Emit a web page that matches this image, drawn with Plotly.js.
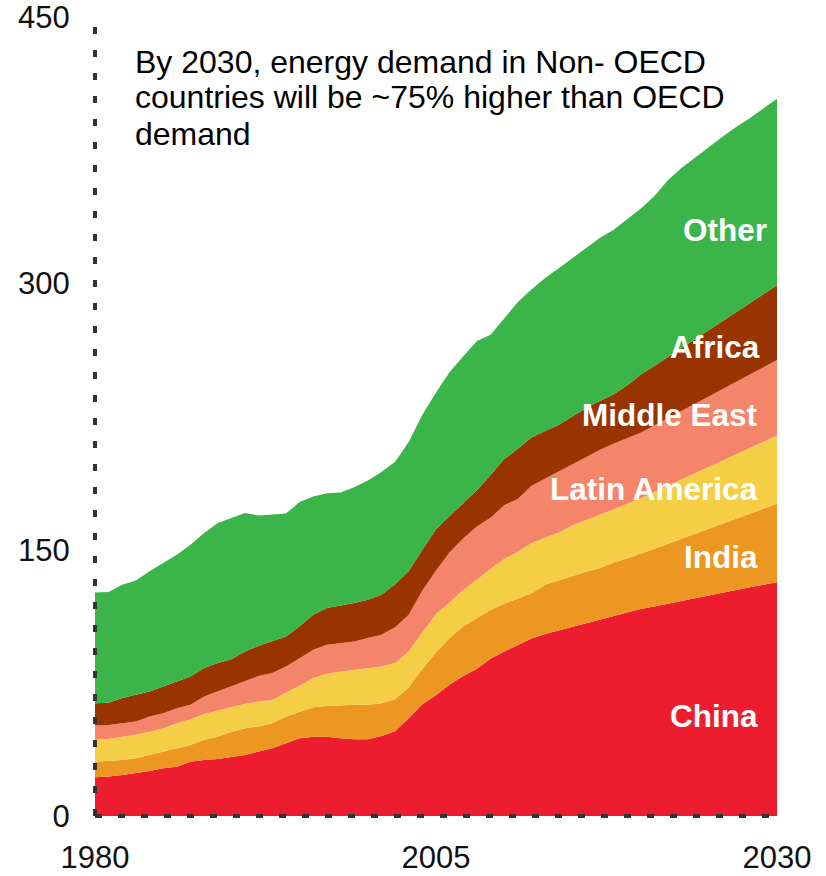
<!DOCTYPE html>
<html>
<head>
<meta charset="utf-8">
<script src="https://cdn.plot.ly/plotly-3.0.1.min.js"></script>
<style>html,body{margin:0;padding:0;background:#fff;}#chart{width:826px;height:876px;}</style>
</head>
<body>
<div id="chart"></div>
<script>
var years = [];
for (var yr = 1980; yr <= 2030; yr++) years.push(yr);

var china = [21.8,22.2,23.1,24.1,25.4,26.9,27.8,30.6,31.6,32.1,33.4,34.4,36.3,38.2,41.0,43.8,44.7,44.7,43.8,43.2,43.2,45.1,47.8,55.1,63.0,68.0,74.0,78.8,83.0,88.5,92.6,96.4,100.0,102.5,104.5,106.5,108.5,110.5,112.6,114.5,116.6,118.0,119.6,121.2,122.8,124.3,125.8,127.3,128.8,130.2,131.6];
var india = [8.8,8.7,8.5,8.4,9.0,9.4,10.4,9.4,11.3,12.6,14.1,15.0,14.1,14.1,15.0,15.0,16.6,17.3,18.6,19.4,19.4,18.4,18.1,17.3,19.8,24.2,26.2,28.0,28.5,27.5,27.0,26.2,25.4,27.8,28.2,29.0,29.0,29.2,30.0,30.5,31.0,32.4,33.6,34.9,36.1,37.5,38.8,40.1,41.4,42.9,44.3];
var latinAmerica = [12.3,12.4,13.1,13.2,13.1,13.1,14.1,14.5,14.6,14.7,14.1,13.8,14.1,13.1,13.5,14.5,16.3,18.1,19.0,19.7,20.3,20.7,20.2,20.2,20.6,21.6,20.1,20.6,21.6,23.3,25.2,26.2,28.4,26.5,26.9,28.2,29.4,30.0,30.0,30.6,31.4,32.1,32.9,33.5,34.2,34.9,35.6,36.3,37.0,37.7,38.4];
var middleEast = [8.0,7.9,7.6,7.5,8.5,8.5,8.4,8.1,9.8,10.7,11.3,12.5,14.4,15.1,14.7,15.6,16.0,16.3,16.0,16.0,17.3,17.9,20.2,20.8,23.6,24.5,28.2,29.1,30.0,28.7,30.2,29.8,32.2,33.3,34.5,34.5,35.3,36.5,37.0,37.1,36.9,37.5,38.0,38.6,39.2,39.7,40.2,40.8,41.4,41.9,42.5];
var africa = [12.6,12.6,14.1,15.0,14.1,15.0,15.0,16.0,16.0,16.0,15.4,16.9,17.0,17.8,16.9,17.9,19.7,20.7,21.0,21.6,21.6,22.5,24.2,24.6,23.0,23.2,20.5,20.0,20.4,24.0,26.0,28.2,27.2,26.8,26.2,26.8,27.6,27.6,27.8,29.7,32.6,33.5,34.5,35.4,36.4,37.3,38.3,39.3,40.2,41.2,42.1];
var other = [62.4,62.4,63.9,64.5,67.7,69.6,71.5,74.2,76.1,78.9,79.6,78.1,73.3,71.4,69.2,70.0,66.7,64.7,63.8,65.3,67.2,69.2,69.0,72.6,76.0,77.0,81.0,82.5,84.0,79.0,79.5,82.7,83.3,86.1,88.2,89.0,89.7,91.7,92.6,93.6,93.5,95.5,99.4,101.4,102.3,103.3,103.8,104.2,104.2,104.6,105.1];

var seriesNames = ["China","India","Latin America","Middle East","Africa","Other"];
var seriesColors = ["#ED1C2E","#EB9722","#F4CF45","#F4856A","#993300","#3BB54A"];
var seriesData = [china, india, latinAmerica, middleEast, africa, other];

var yTicks = [0,150,300,450];
var xTicks = [1980,2005,2030];

var noteLines = ["By 2030, energy demand in Non- OECD","countries will be ~75% higher than OECD","demand"];

var traces = seriesData.map(function(d,i){
  return {
    x: years, y: d, type: 'scatter', mode: 'lines',
    stackgroup: 'one', name: seriesNames[i],
    line: {width: 0, color: seriesColors[i]},
    fillcolor: seriesColors[i],
    hoverinfo: 'skip'
  };
});

var fontFam = '"Liberation Sans", Arial, sans-serif';

var annotations = [];
var noteY = [424.6, 404.9, 384.0];
noteLines.forEach(function(t,i){
  annotations.push({x: 1982.75, y: noteY[i], xref:'x', yref:'y', text: t, showarrow:false,
    xanchor:'left', yanchor:'middle', font:{family:fontFam, size:32, color:'#000'}});
});
var labelX = [2028.75,2028.75,2028.75,2028.75,2028.9,2029.4];
var labelY = [56.4,146.1,184.4,225.6,263.9,329.9];
seriesNames.forEach(function(n,i){
  annotations.push({x: labelX[i], y: labelY[i], xref:'x', yref:'y', text:'<b>'+n+'</b>', showarrow:false,
    xanchor:'right', yanchor:'middle', font:{family:fontFam, size:31.5, color:'#fff'}});
});

var layout = {
  width: 826, height: 876,
  margin: {l:95, r:49, t:17, b:60},
  paper_bgcolor:'#fff', plot_bgcolor:'#fff',
  showlegend:false,
  font:{family:fontFam, size:28, color:'#111'},
  xaxis:{range:[1980,2030], tickvals:xTicks, ticktext:xTicks.map(String), showgrid:false, zeroline:false,
    showline:false, ticks:'outside', ticklen:14, tickcolor:'rgba(0,0,0,0)', ticklabeloverflow:'allow',
    tickfont:{family:fontFam,size:31,color:'#111'}, fixedrange:true},
  yaxis:{range:[0,450], tickvals:yTicks, ticktext:yTicks.map(String), showgrid:false, zeroline:false,
    showline:false, ticks:'outside', ticklen:18, tickcolor:'rgba(0,0,0,0)', ticklabeloverflow:'allow',
    tickfont:{family:fontFam,size:31,color:'#111'}, fixedrange:true},
  shapes:[
    {type:'line', xref:'paper', yref:'paper', x0:0, x1:0, y0:0, y1:1, layer:'above',
      line:{color:'#333', width:4, dash:'7px,16px'}},
    {type:'line', xref:'paper', yref:'paper', x0:0, x1:1, y0:0, y1:0, layer:'above',
      line:{color:'#333', width:4, dash:'7px,16px'}}
  ],
  annotations: annotations
};

Plotly.newPlot('chart', traces, layout, {displayModeBar:false, staticPlot:true});
</script>
</body>
</html>
